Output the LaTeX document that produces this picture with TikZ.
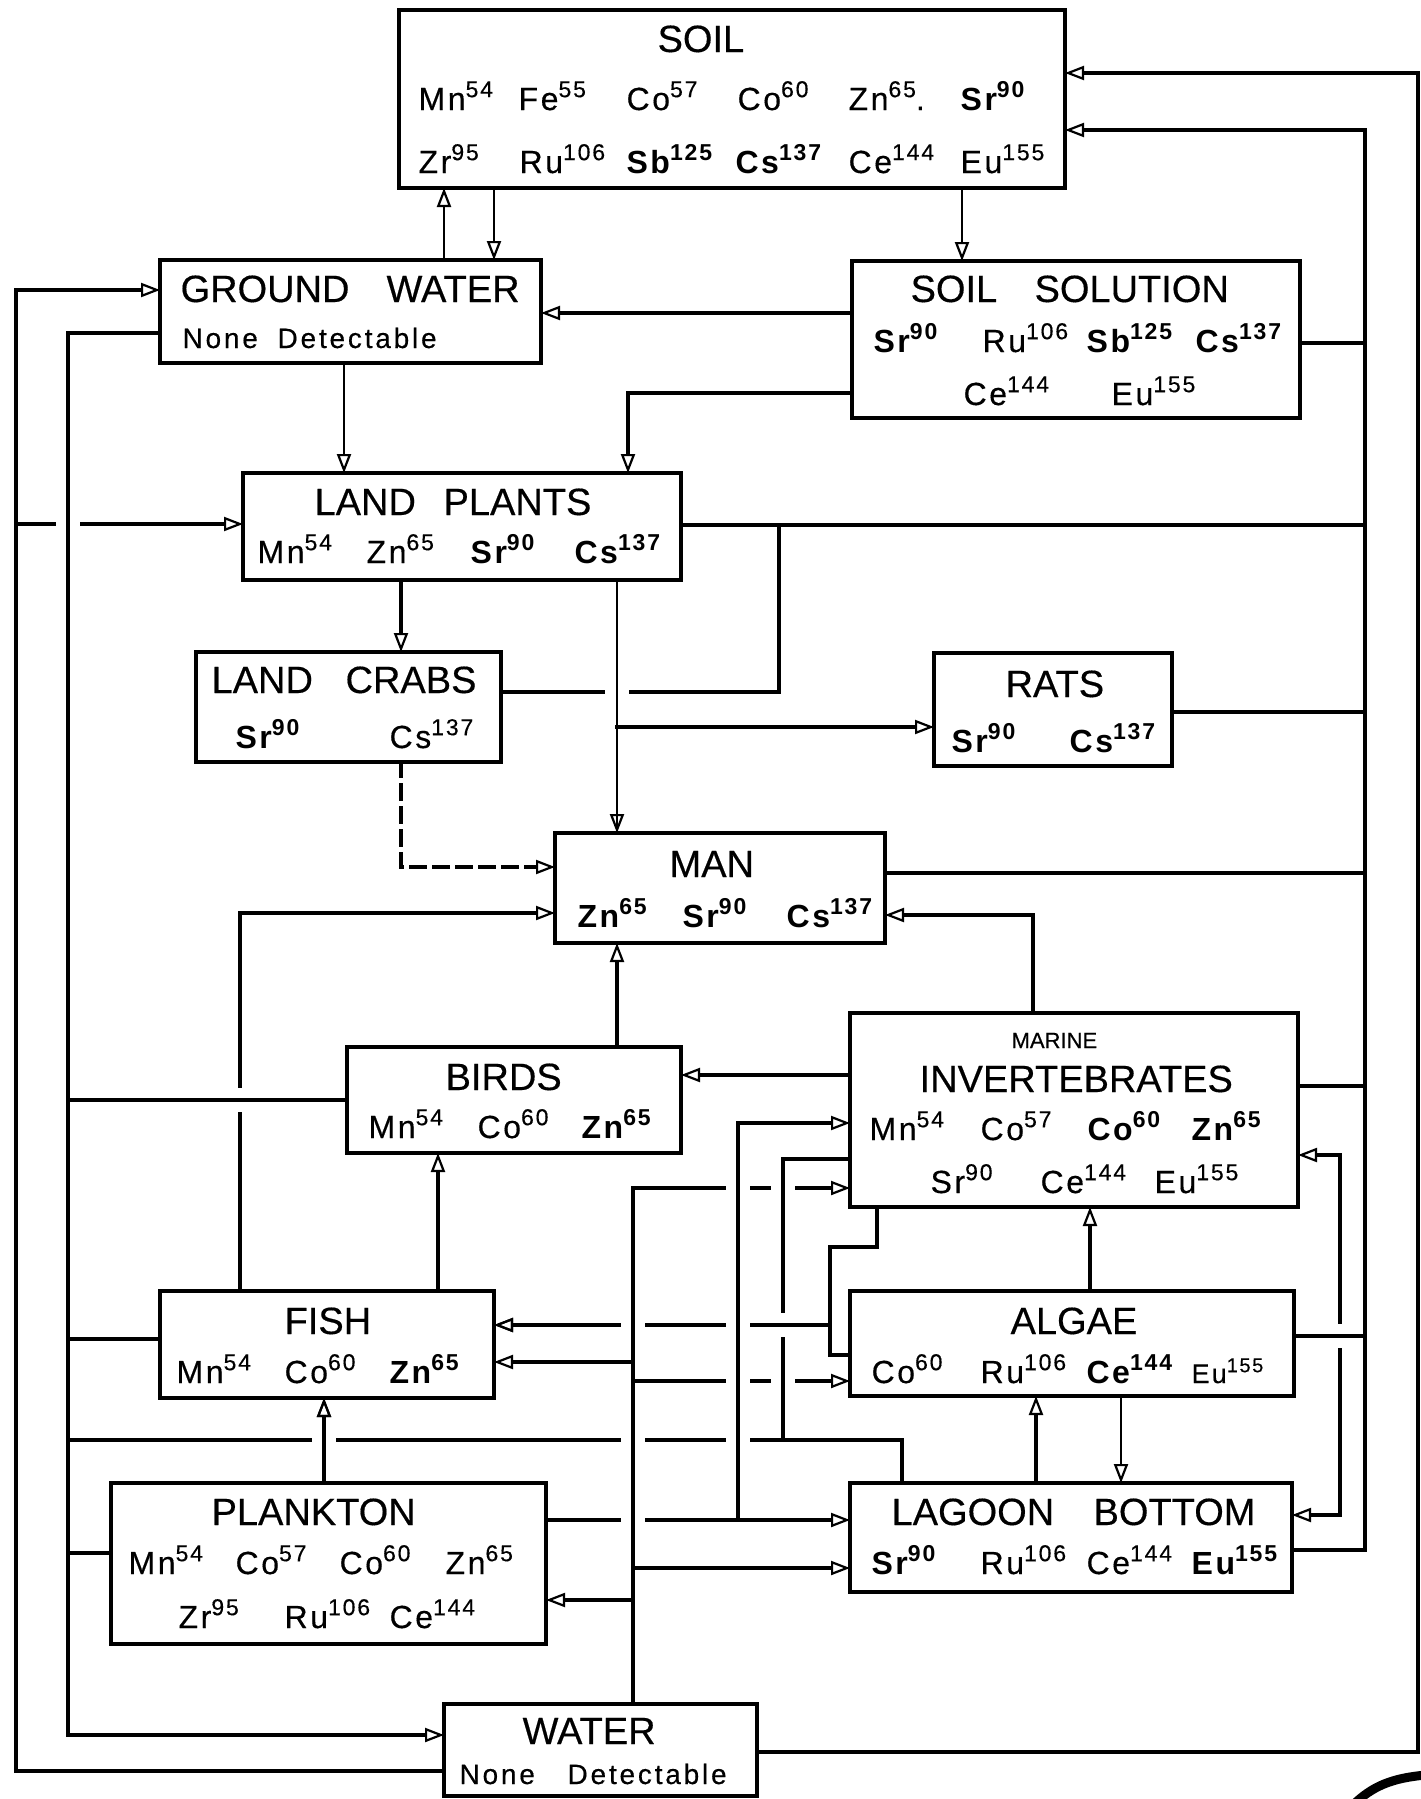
\documentclass[tikz,border=0pt]{standalone}
\usepackage{fontspec}
\setmainfont{Liberation Sans}[UprightFeatures={FakeBold=0.4}]
\newfontfamily\isof{Liberation Sans}[LetterSpace=8, UprightFeatures={FakeBold=0.4}]
\newfontfamily\ndf{Liberation Sans}[LetterSpace=10, UprightFeatures={FakeBold=0.4}]
\usetikzlibrary{arrows.meta}
\newcommand\ttl{\fontsize{38}{40}\selectfont}
\newcommand\isz{\isof\fontsize{32}{34}\selectfont}
\newcommand\msz{\fontsize{22}{24}\selectfont}
\newcommand\ndsz{\ndf\fontsize{28}{30}\selectfont}
\newcommand\iso[2]{#1\raisebox{0.4em}{\fontsize{23}{25}\selectfont #2}}
\newcommand\isob[2]{\textbf{\iso{#1}{#2}}}
\newcommand\cl[2]{\makebox[#1pt][l]{#2}}
\newcommand\KnH[2]{\fill[white] (#1-12,#2-6) rectangle (#1+12,#2+6);}
\newcommand\KnV[2]{\fill[white] (#1-6,#2-12) rectangle (#1+6,#2+12);}
\begin{document}
\begin{tikzpicture}[x=1pt,y=-1pt,
  box/.style={draw, line width=3.2pt, inner sep=0pt, outer sep=0pt, anchor=north west},
  tx/.style={inner sep=0pt, anchor=base west},
  thn/.style={line width=2.4pt},
  ar/.style={-{Triangle[open,length=19pt,width=14pt,line width=2.2pt]}},
  line width=3.2pt, line cap=rect]
\useasboundingbox (0,0) rectangle (1421,1799);

% ---------- boxes ----------
\node[box, minimum width=666pt, minimum height=178pt] (soil)   at (399,10)   {};
\node[box, minimum width=381pt, minimum height=103pt] (gw)     at (160,260)  {};
\node[box, minimum width=448pt, minimum height=157pt] (ss)     at (852,261)  {};
\node[box, minimum width=438pt, minimum height=107pt] (lp)     at (243,473)  {};
\node[box, minimum width=305pt, minimum height=110pt] (lc)     at (196,652)  {};
\node[box, minimum width=238pt, minimum height=113pt] (rats)   at (934,653)  {};
\node[box, minimum width=330pt, minimum height=110pt] (man)    at (555,833)  {};
\node[box, minimum width=334pt, minimum height=106pt] (birds)  at (347,1047) {};
\node[box, minimum width=448pt, minimum height=194pt] (mi)     at (850,1013) {};
\node[box, minimum width=334pt, minimum height=107pt] (fish)   at (160,1291) {};
\node[box, minimum width=444pt, minimum height=105pt] (algae)  at (850,1291) {};
\node[box, minimum width=435pt, minimum height=161pt] (plank)  at (111,1483) {};
\node[box, minimum width=442pt, minimum height=109pt] (lagoon) at (850,1483) {};
\node[box, minimum width=313pt, minimum height=92pt]  (water)  at (444,1704) {};

% ---------- texts ----------
\node[tx,font=\ttl] (soilT) at (656,52) {SOIL};
\node[tx,font=\isz] (soilA) at (417,110) {\cl{100}{\iso{Mn}{54}}\cl{108}{\iso{Fe}{55}}\cl{111}{\iso{Co}{57}}\cl{111}{\iso{Co}{60}}\cl{112}{\iso{Zn}{65}.}\isob{Sr}{90}};
\node[tx,font=\isz] (soilB) at (417,173) {\cl{101}{\iso{Zr}{95}}\cl{107}{\iso{Ru}{106}}\cl{109}{\isob{Sb}{125}}\cl{113}{\isob{Cs}{137}}\cl{112}{\iso{Ce}{144}}\iso{Eu}{155}};
\node[tx,font=\ttl] (gwT) at (179,302) {\cl{206}{GROUND}WATER};
\node[tx,font=\ndsz] (gwN) at (181,348) {\cl{95}{None}Detectable};
\node[tx,font=\ttl] (ssT) at (909,302) {\cl{124}{SOIL}SOLUTION};
\node[tx,font=\isz] (ssA) at (872,352) {\cl{109}{\isob{Sr}{90}}\cl{104}{\iso{Ru}{106}}\cl{109}{\isob{Sb}{125}}\isob{Cs}{137}};
\node[tx,font=\isz] (ssB) at (962,405) {\cl{148}{\iso{Ce}{144}}\iso{Eu}{155}};
\node[tx,font=\ttl] (lpT) at (313,515) {\cl{129}{LAND}PLANTS};
\node[tx,font=\isz] (lpA) at (256,563) {\cl{109}{\iso{Mn}{54}}\cl{104}{\iso{Zn}{65}}\cl{104}{\isob{Sr}{90}}\isob{Cs}{137}};
\node[tx,font=\ttl] (lcT) at (210,693) {\cl{134}{LAND}CRABS};
\node[tx,font=\isz] (lcA) at (234,748) {\cl{154}{\isob{Sr}{90}}\iso{Cs}{137}};
\node[tx,font=\ttl] (ratsT) at (1004,697) {RATS};
\node[tx,font=\isz] (ratsA) at (950,752) {\cl{118}{\isob{Sr}{90}}\isob{Cs}{137}};
\node[tx,font=\ttl] (manT) at (668,877) {MAN};
\node[tx,font=\isz] (manA) at (576,927) {\cl{105}{\isob{Zn}{65}}\cl{104}{\isob{Sr}{90}}\isob{Cs}{137}};
\node[tx,font=\ttl] (birdsT) at (444,1090) {BIRDS};
\node[tx,font=\isz] (birdsA) at (367,1138) {\cl{109}{\iso{Mn}{54}}\cl{104}{\iso{Co}{60}}\isob{Zn}{65}};
\node[tx,font=\msz] (miM) at (1010,1048) {MARINE};
\node[tx,font=\ttl] (miT) at (918,1092) {INVERTEBRATES};
\node[tx,font=\isz] (miA) at (868,1140) {\cl{111}{\iso{Mn}{54}}\cl{107}{\iso{Co}{57}}\cl{104}{\isob{Co}{60}}\isob{Zn}{65}};
\node[tx,font=\isz] (miB) at (929,1193) {\cl{110}{\iso{Sr}{90}}\cl{114}{\iso{Ce}{144}}\iso{Eu}{155}};
\node[tx,font=\ttl] (fishT) at (283,1334) {FISH};
\node[tx,font=\isz] (fishA) at (175,1383) {\cl{108}{\iso{Mn}{54}}\cl{105}{\iso{Co}{60}}\isob{Zn}{65}};
\node[tx,font=\ttl] (algaeT) at (1009,1334) {ALGAE};
\node[tx,font=\isz] (algaeA) at (870,1383) {\cl{109}{\iso{Co}{60}}\cl{106}{\iso{Ru}{106}}\cl{105}{\isob{Ce}{144}}{\fontsize{27}{29}\selectfont Eu\raisebox{0.4em}{\fontsize{20}{22}\selectfont 155}}};
\node[tx,font=\ttl] (plankT) at (210,1525) {PLANKTON};
\node[tx,font=\isz] (plankA) at (127,1574) {\cl{107}{\iso{Mn}{54}}\cl{104}{\iso{Co}{57}}\cl{106}{\iso{Co}{60}}\iso{Zn}{65}};
\node[tx,font=\isz] (plankB) at (177,1628) {\cl{106}{\iso{Zr}{95}}\cl{105}{\iso{Ru}{106}}\iso{Ce}{144}};
\node[tx,font=\ttl] (lagT) at (890,1525) {\cl{202}{LAGOON}BOTTOM};
\node[tx,font=\isz] (lagA) at (870,1574) {\cl{109}{\isob{Sr}{90}}\cl{106}{\iso{Ru}{106}}\cl{105}{\iso{Ce}{144}}\isob{Eu}{155}};
\node[tx,font=\ttl] (waterT) at (521,1744) {WATER};
\node[tx,font=\ndsz] (waterN) at (458,1784) {\cl{108}{None}Detectable};

% ---------- junction coordinates ----------
\coordinate (rT) at (1365,130);
\coordinate (rB) at (1365,1550);
\coordinate (oT) at (1418,73);
\coordinate (oB) at (1418,1752);
\coordinate (lT) at (16,290);
\coordinate (lB) at (16,1771);
\coordinate (mT) at (68,333);
\coordinate (mB) at (68,1735);

% ---------- connectors ----------
\draw[thn,ar] (gw.north -| 444,0) -- (soil.south -| 444,0);
\draw[thn,ar] (soil.south -| 494,0) -- (gw.north -| 494,0);
\draw[thn,ar] (soil.south -| 962,0) -- (ss.north -| 962,0);
\draw[ar] (ss.west |- 0,313) -- (gw.east |- 0,313);
\draw[ar] (ss.west |- 0,393) -| (lp.north -| 628,0);
\draw[thn,ar] (gw.south -| 344,0) -- (lp.north -| 344,0);
% right collector to soil
\draw[ar] (lagoon.east |- rB) -- (rB) -- (rT) -- (soil.east |- rT);
\draw (ss.east |- 0,343) -- (rT |- 0,343);
\draw (lp.east |- 0,525) -- (rT |- 0,525);
\draw (rats.east |- 0,712) -- (rT |- 0,712);
\draw (man.east |- 0,873) -- (rT |- 0,873);
\draw (mi.east |- 0,1086) -- (rT |- 0,1086);
% outer: water to soil
\draw[ar, line width=3.8pt] (water.east |- oB) -- (oB) -- (oT) -- (soil.east |- oT);
% left: water to ground water and land plants
\draw[ar] (water.west |- lB) -- (lB) -- (lT) -- (gw.west |- lT);
\draw[ar] (16,524) -- (lp.west |- 0,524);
% second left: to water
\draw[ar] (gw.west |- mT) -- (mT) -- (mB) -- (water.west |- mB);
\draw (birds.west |- 0,1100) -- (mT |- 0,1100);
\draw (fish.west |- 0,1339) -- (mT |- 0,1339);
\draw (plank.west |- 0,1553) -- (mT |- 0,1553);
\draw (lagoon.north -| 902,0) -- (902,1440) -- (mT |- 0,1440);
% land plants
\draw[ar] (lp.south -| 401,0) -- (lc.north -| 401,0);
\draw[thn,ar] (lp.south -| 617,0) -- (man.north -| 617,0);
\draw[ar] (617,727) -- (rats.west |- 0,727);
\draw (lc.east |- 0,692) -- (779,692) -- (779,525);
\draw[ar, dash pattern=on 14pt off 9pt] (lc.south -| 401,0) -- (401,867) -- (man.west |- 0,867);
% into man
\draw[ar] (fish.north -| 240,0) -- (240,913) -- (man.west |- 0,913);
\draw[ar] (mi.north -| 1033,0) -- (1033,915) -- (man.east |- 0,915);
\draw[ar] (birds.north -| 617,0) -- (man.south -| 617,0);
\draw[ar] (mi.west |- 0,1075) -- (birds.east |- 0,1075);
\draw[ar] (fish.north -| 438,0) -- (birds.south -| 438,0);
\draw[ar] (plank.north -| 324,0) -- (fish.south -| 324,0);
\draw[ar] (algae.north -| 1090,0) -- (mi.south -| 1090,0);
\draw[ar] (lagoon.north -| 1036,0) -- (algae.south -| 1036,0);
\draw[thn,ar] (algae.south -| 1121,0) -- (lagoon.north -| 1121,0);
\draw[{Triangle[open,length=19pt,width=14pt,line width=2.2pt]}-{Triangle[open,length=19pt,width=14pt,line width=2.2pt]}]
  (mi.east |- 0,1155) -- (1340,1155) -- (1340,1515) -- (lagoon.east |- 0,1515);
% water column
\draw[ar] (water.north -| 633,0) -- (633,1188) -- (mi.west |- 0,1188);
\draw[ar] (633,1362) -- (fish.east |- 0,1362);
\draw[ar] (633,1381) -- (algae.west |- 0,1381);
\draw[ar] (633,1568) -- (lagoon.west |- 0,1568);
\draw[ar] (633,1600) -- (plank.east |- 0,1600);
% plankton
\draw[ar] (plank.east |- 0,1520) -- (lagoon.west |- 0,1520);
\draw[ar] (738,1520) -- (738,1123) -- (mi.west |- 0,1123);
% marine invertebrates bottom / left
\draw (mi.south -| 877,0) -- (877,1247) -- (830,1247) -- (830,1355) -- (algae.west |- 0,1355);
\draw (mi.west |- 0,1159) -- (783,1159) -- (783,1440);
\draw[ar] (830,1325) -- (fish.east |- 0,1325);

% ---------- crossing gaps ----------
\KnH{738}{1188}\KnH{783}{1188}\KnH{738}{1381}\KnH{783}{1381}
\KnH{324}{1440}\KnH{633}{1440}\KnH{738}{1440}\KnH{633}{1520}
\KnH{68}{524}\KnH{617}{692}
\KnV{240}{1100}\KnV{1340}{1336}
\draw (783,1159) -- (783,1440);
\KnV{783}{1325}
\draw[ar] (830,1325) -- (fish.east |- 0,1325);
\KnH{633}{1325}\KnH{738}{1325}
\draw (water.north -| 633,0) -- (633,1188);
\draw (738,1520) -- (738,1123);
\draw (mT) -- (mB);
\draw[thn] (lp.south -| 617,0) -- (man.north -| 617,0);
\draw[ar] (plank.north -| 324,0) -- (fish.south -| 324,0);
\draw (birds.west |- 0,1100) -- (mT |- 0,1100);
\draw (algae.east |- 0,1336) -- (rT |- 0,1336);

% scan mark at bottom right
\draw[line width=9pt, line cap=round] (1352,1806) .. controls (1372,1786) and (1392,1778) .. (1426,1775);
\end{tikzpicture}
\end{document}
